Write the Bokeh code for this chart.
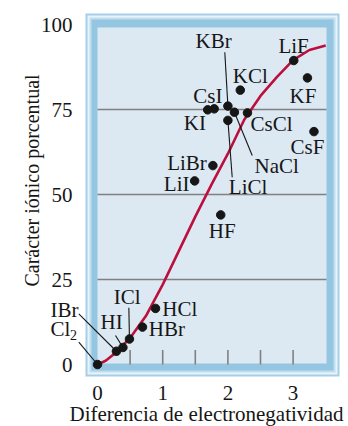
import math
from bokeh.plotting import figure
from bokeh.models import Range1d, FixedTicker, Label, BoxAnnotation, Arrow
from bokeh.embed import file_html
from bokeh.resources import INLINE

# ---------------- data ----------------
compounds = ["Cl2", "IBr", "HI", "ICl", "HBr", "HCl", "LiI", "LiBr", "HF", "KI",
             "CsI", "KBr", "NaCl", "LiCl", "CsCl", "KCl", "CsF", "KF", "LiF"]
en_diff = [0.0, 0.29, 0.39, 0.49, 0.69, 0.89, 1.49, 1.77, 1.89, 1.69,
           1.79, 2.00, 2.10, 2.00, 2.30, 2.19, 3.32, 3.22, 3.01]
ionic_pct = [0.0, 3.9, 5.0, 7.5, 11.0, 16.5, 54.0, 58.5, 44.0, 74.9,
             75.2, 76.0, 74.2, 71.8, 74.0, 80.7, 68.5, 84.3, 89.4]

curve_x = [0, 0.125, 0.25, 0.5, 0.75, 1.0, 1.25, 1.5, 1.75, 2.0, 2.25, 2.5, 2.75, 3.0, 3.25, 3.5]
curve_y = [0, 1.1, 3.0, 7.8, 14.5, 23.5, 33.5, 43.5, 53.0, 62.0, 72.0, 79.0, 84.5, 89.5, 92.5, 93.8]

x_ticks = [0, 1, 2, 3]
y_ticks = [0, 25, 50, 75, 100]
ref_lines = [25, 50, 75]
minor_marks = [0.5, 1.0, 1.5, 2.0, 2.5, 3.0]

x_title = "Diferencia de electronegatividad"
y_title = "Carácter iónico porcentual"

# ---------------- layout (page pixels) ----------------
W, H = 348, 426
FL, FR, FT, FB = 85, 339, 13, 376      # outer frame
X0, XS = 97.0, 65.2                    # pixel of x=0, px per unit
Y0, YS = 364.0, 3.4                    # pixel of y=0, px per unit
IL, IR, IT, IB = 97, 326, 27, 363      # inner panel
LIFT = 6.5                             # baseline correction for labels (px)

def dxp(px):
    return (px - X0) / XS

def dyp(py):
    return (Y0 - py) / YS

FONT = "Liberation Serif"
FS = "21px"
INK = "#161616"

p = figure(width=W, height=H, output_backend="svg", toolbar_location=None,
           x_range=Range1d(dxp(0), dxp(W)), y_range=Range1d(dyp(H), dyp(0)),
           min_border=0, min_border_left=0, min_border_right=0,
           min_border_top=0, min_border_bottom=0)
p.outline_line_color = None
p.background_fill_color = "white"
p.border_fill_color = "white"
p.xgrid.visible = False
p.ygrid.visible = False

# frame bands
bands = [(0, "#a4cfe7"), (2, "#e9f4fa"), (4, "#bfdeef"), (6, "#94c6e2")]
for inset, col in bands:
    p.add_layout(BoxAnnotation(left=dxp(FL + inset), right=dxp(FR - inset),
                               top=dyp(FT + inset), bottom=dyp(FB - inset),
                               fill_color=col, fill_alpha=1, line_color=None, level="underlay"))
p.add_layout(BoxAnnotation(left=dxp(IL), right=dxp(IR), top=dyp(IT), bottom=dyp(IB),
                           fill_color="#dce9f3", fill_alpha=1, line_color=None, level="underlay"))

# axes, pinned at the frame edges
for ax in (p.xaxis[0], p.yaxis[0]):
    ax.axis_line_color = None
    ax.major_tick_line_color = None
    ax.minor_tick_line_color = None
    ax.major_label_text_font = FONT
    ax.major_label_text_font_size = FS
    ax.major_label_text_color = INK
p.xaxis.ticker = FixedTicker(ticks=x_ticks)
p.yaxis.ticker = FixedTicker(ticks=y_ticks)
p.xaxis.fixed_location = dyp(FB)
p.yaxis.fixed_location = dxp(FL)
p.xaxis.major_label_standoff = 3
p.yaxis.major_label_standoff = 7

# reference lines and small marks
p.segment(x0=[dxp(IL)] * len(ref_lines), x1=[dxp(IR)] * len(ref_lines),
          y0=ref_lines, y1=ref_lines, line_color="#808080", line_width=1.6)
p.segment(x0=minor_marks, x1=minor_marks, y0=[0] * len(minor_marks),
          y1=[4.3] * len(minor_marks), line_color="#808080", line_width=1.6)

# curve
p.line(curve_x, curve_y, line_color="#bd0f3d", line_width=2.6)

# label offsets (px, dy down) and leader starts
label_off = {
    "Cl2": (-47, -29), "IBr": (-65.9, -35), "HI": (-22.4, -18.7), "ICl": (-15.6, -35.2),
    "HBr": (6.3, 8.4), "HCl": (6.7, 7.1), "LiI": (-30.8, 9.6), "LiBr": (-45.7, 4.2),
    "HF": (-11.9, 22.9), "KI": (-23.9, 20), "CsI": (-21, -6.6), "KBr": (-32.4, -58.6),
    "NaCl": (20.1, 60), "LiCl": (0.9, 72.8), "CsCl": (3, 17.6), "KCl": (-7.5, -7.3),
    "CsF": (-23.5, 21.6), "KF": (-17.9, 24.3), "LiF": (-15.3, -8.3),
}
leader_off = {
    "KBr": (-3.1, -53.9), "NaCl": (17.8, 43.3), "LiCl": (4.3, 56.8),
    "IBr": (-37.6, -37.4), "Cl2": (-18.7, -22.3), "HI": (-7.4, -12), "ICl": (-0.6, -31.2),
}

for name, x, y in zip(compounds, en_diff, ionic_pct):
    if name in leader_off:
        ox, oy = leader_off[name]
        p.add_layout(Arrow(end=None, x_start=x + ox / XS, y_start=y - oy / YS,
                           x_end=x, y_end=y, line_color=INK, line_width=1.1))

p.scatter(en_diff, ionic_pct, size=8.5, color=INK)

for name, x, y in zip(compounds, en_diff, ionic_pct):
    ox, oy = label_off[name]
    lx, ly = x + ox / XS, y - (oy - LIFT) / YS
    txt = "Cl" if name == "Cl2" else name
    p.add_layout(Label(x=lx, y=ly, text=txt, text_font=FONT, text_font_size=FS,
                       text_color=INK, text_align="left", text_baseline="alphabetic"))
    if name == "Cl2":
        p.add_layout(Label(x=lx + 19.5 / XS, y=ly - 6 / YS, text="2", text_font=FONT,
                           text_font_size="14px", text_color=INK,
                           text_align="left", text_baseline="alphabetic"))

# axis titles
p.add_layout(Label(x=dxp(206), y=dyp(419.5 - LIFT), text=x_title, text_font=FONT, text_font_size=FS,
                   text_color=INK, text_align="center", text_baseline="alphabetic"))
p.add_layout(Label(x=dxp(31), y=dyp(180), text=y_title, text_font=FONT, text_font_size="20px",
                   text_color=INK, text_align="center", text_baseline="middle",
                   angle=math.pi / 2))

open("out.html", "w").write(file_html(p, INLINE))
